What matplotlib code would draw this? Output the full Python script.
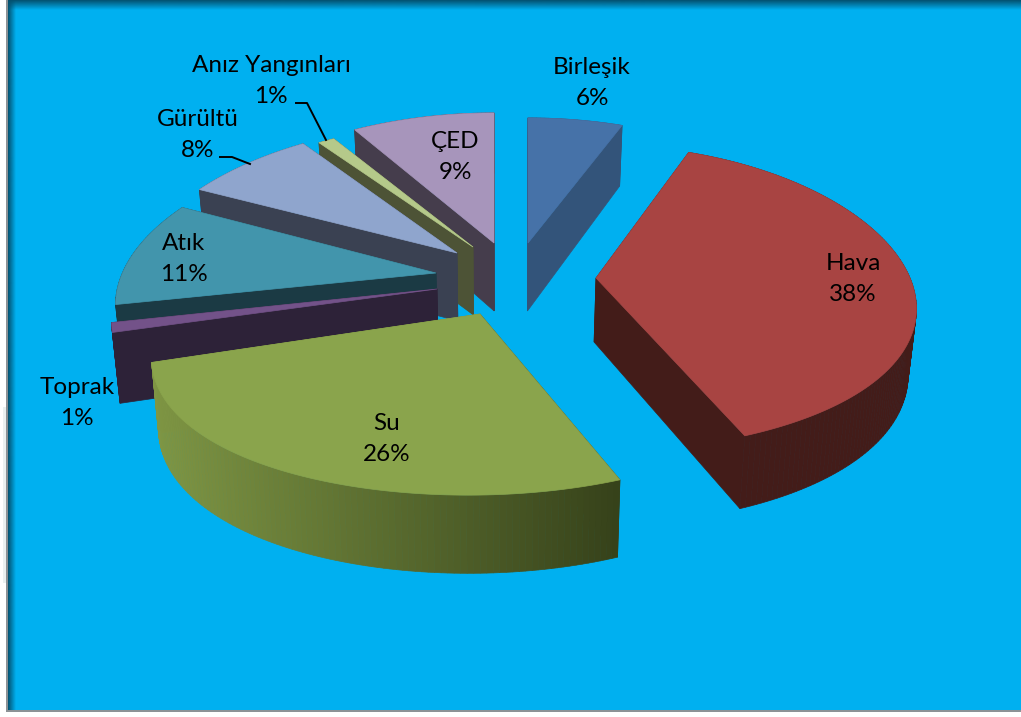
import numpy as np
import matplotlib
matplotlib.use("Agg")
import matplotlib.pyplot as plt
from matplotlib.patches import Polygon, Rectangle
from matplotlib.colors import to_rgb

# dados
nomes = ["Birleşik", "Hava", "Su", "Toprak", "Atık", "Gürültü", "Anız Yangınları", "ÇED"]
valores = [6, 38, 26, 1, 11, 8, 1, 9]

# estilo de cada fatia
cor_topo = ["#4672A8", "#A84442", "#8AA44C", "#735289", "#4295AC", "#8FA5CD", "#B5C98A", "#A795BB"]
cor_lado = ["#33547A", "#431C19", "#5C6E32", "#2D2238", "#1B3A44", "#3A4152", "#4D5336", "#453D4C"]
apice_x = [528, 596, 480, 437, 436, 457, 473, 494]
apice_y = [243, 278, 314, 289, 273, 253, 247, 243]
# pequenos ajustes da borda de cada fatia
borda_y = [0, -8, 0, -5, -7, -5, 0, -5]
escala_x = [1, 0.985, 1, 1, 0.985, 1, 1, 1]
inclina = [0, 0, 12, 0, 0, 0, 0, 0]
altura = [68, 64, 68, 68, 68, 68, 68, 68]
ordem = [7, 0, 6, 5, 4, 3, 1, 2]
rotulo_x = [592, 853, 387, 77, 184, 198, 271, 455]
rotulo_y = [83, 279, 439, 403, 259, 135, 81, 157]

fundo = "#00B0F0"
RX, RY = 315, 148


def proj(t, i):
    d = np.cos(t)
    x = apice_x[i] + escala_x[i] * RX * np.sin(t) / (1 + 0.25 * d) + inclina[i] * d
    y = apice_y[i] + borda_y[i] - RY * d / (1 + 0.183 * d)
    return x, y


def desce(x, y, d, i):
    # ponto de baixo da parede
    return x - 0.02 * (x - 500), y + altura[i] / (1 + 0.13 * d)


fig = plt.figure(figsize=(10.21, 7.17), dpi=100)
ax = fig.add_axes([0, 0, 1, 1])
plt.rcParams["font.family"] = ["Lato", "DejaVu Sans"]

# moldura
ax.add_patch(Rectangle((0, 0), 1021, 717, fc="white", ec="none", zorder=0))
ax.add_patch(Rectangle((3, 407), 4, 176, fc="#EAF0F0", ec="none", zorder=0))
ax.add_patch(Rectangle((6, 0), 1015, 712, fc="#8C9296", ec="none", zorder=0))
ax.add_patch(Rectangle((8, 0), 1013, 710, fc=fundo, ec="none", zorder=0))
grad_h = np.linspace(1, 0, 64).reshape(1, -1)
grad_v = np.linspace(1, 0, 64).reshape(-1, 1)
rgba = np.zeros((1, 64, 4))
rgba[..., :3] = to_rgb("#04506E")
rgba[..., 3] = grad_h
ax.imshow(rgba, extent=(8, 15, 710, 0), aspect="auto", zorder=1, interpolation="bilinear")
rgba = np.zeros((64, 1, 4))
rgba[..., :3] = to_rgb("#04506E")
rgba[..., 3] = grad_v
ax.imshow(rgba, extent=(8, 1021, 10, 0), aspect="auto", zorder=1, interpolation="bilinear")
ax.set_xlim(0, 1021)
ax.set_ylim(717, 0)
ax.axis("off")

# angulos a partir dos valores
acum = np.cumsum([0] + valores)
inicio = acum[:-1] / sum(valores) * 2 * np.pi
fim = acum[1:] / sum(valores) * 2 * np.pi

z = 2
for i in ordem:
    a0, a1 = apice_x[i], apice_y[i]
    ts = np.linspace(inicio[i], fim[i], max(4, int(valores[i] * 4)))
    xs, ys = proj(ts, i)
    xb, yb = desce(xs, ys, np.cos(ts), i)
    ab0, ab1 = desce(a0, a1, 0, i)
    # paredes do corte
    for k in [0, -1]:
        pts = [(a0, a1), (xs[k], ys[k]), (xb[k], yb[k]), (ab0, ab1)]
        cor = cor_lado[i]
        if i == 2:
            cor = "#36421A" if k == 0 else "#7A9040"
        ax.add_patch(Polygon(pts, fc=cor, ec=cor, lw=0.5, zorder=z))
    z += 1
    # lateral curva
    for k in range(len(ts) - 1):
        cor = cor_lado[i]
        if i == 2:
            # degrade so na fatia Su
            f = (xs[k] - 152) / (620 - 152)
            f = min(max(f, 0), 1)
            c0, c1 = np.array(to_rgb("#7F9644")), np.array(to_rgb("#36421A"))
            cor = tuple(c0 + (c1 - c0) * f)
        pts = [(xs[k], ys[k]), (xs[k + 1], ys[k + 1]), (xb[k + 1], yb[k + 1]), (xb[k], yb[k])]
        ax.add_patch(Polygon(pts, fc=cor, ec=cor, lw=0.5, zorder=z))
    z += 1
    # topo
    pts = [(a0, a1)] + list(zip(xs, ys))
    ax.add_patch(Polygon(pts, fc=cor_topo[i], ec=cor_topo[i], lw=0.5, zorder=z))
    z += 1

# linhas de chamada
ax.plot([220, 232, 250], [157, 157, 164], color="black", lw=1.4, zorder=z)
ax.plot([296, 307, 326], [103, 103, 140], color="black", lw=1.4, zorder=z)

# rotulos
for i in range(len(nomes)):
    ax.text(rotulo_x[i], rotulo_y[i], f"{nomes[i]}\n{valores[i]}%", ha="center", va="center",
            fontsize=17.5, color="black", linespacing=1.6, zorder=z + 1)

fig.savefig("out.png", dpi=100)
